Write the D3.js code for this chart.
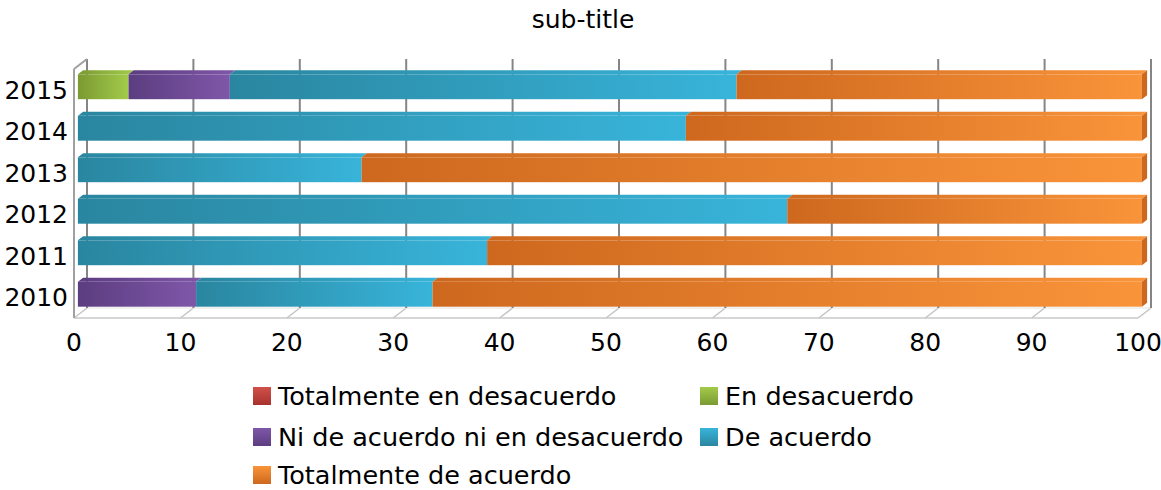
<!DOCTYPE html>
<html>
<head>
<meta charset="utf-8">
<script src="https://cdn.jsdelivr.net/npm/d3@7"></script>
<style>
  body { margin: 0; background: #fff; }
  text { font-family: "DejaVu Sans", sans-serif; }
</style>
</head>
<body>
<div id="chart"></div>
<script>
// data (percent per year, bars go top to bottom)
var years = ["2015", "2014", "2013", "2012", "2011", "2010"];
var seriesNames = ["Totalmente en desacuerdo", "En desacuerdo", "Ni de acuerdo ni en desacuerdo", "De acuerdo", "Totalmente de acuerdo"];
var totDesacuerdo = [0, 0, 0, 0, 0, 0];
var enDesacuerdo  = [4.76, 0, 0, 0, 0, 0];
var niNi          = [9.52, 0, 0, 0, 0, 11.11];
var deAcuerdo     = [47.62, 57.14, 26.67, 66.67, 38.46, 22.22];
var totAcuerdo    = [38.10, 42.86, 73.33, 33.33, 61.54, 66.67];
var xTicks = [0, 10, 20, 30, 40, 50, 60, 70, 80, 90, 100];

var seriesValues = [totDesacuerdo, enDesacuerdo, niNi, deAcuerdo, totAcuerdo];
var colours = [
    ["#a8322e", "#d2504a"],
    ["#7b9a33", "#a2cb4a"],
    ["#5c3d80", "#7f57a9"],
    ["#2a86a0", "#38b4da"],
    ["#cd681e", "#fa943a"]
];

var width = 1161, height = 490;
var depth = { dx: 13, dy: -10 };   // full depth of the 3d box
var f0 = 0.3, f1 = 0.7;            // bar front / back depth

var svg = d3.select("#chart").append("svg")
    .attr("width", width)
    .attr("height", height);

var x = d3.scaleLinear().domain([0, 100]).range([74, 1138]);
var y = d3.scaleBand().domain(years).range([69, 318]).paddingInner(0.4).paddingOuter(0.2);

var defs = svg.append("defs");
colours.forEach(function (c, i) {
    var g = defs.append("linearGradient").attr("id", "grad" + i)
        .attr("x1", "0%").attr("x2", "100%").attr("y1", "0%").attr("y2", "0%");
    g.append("stop").attr("offset", "0%").attr("stop-color", c[0]);
    g.append("stop").attr("offset", "100%").attr("stop-color", c[1]);
    var gl = defs.append("linearGradient").attr("id", "leg" + i)
        .attr("x1", "0%").attr("x2", "0%").attr("y1", "0%").attr("y2", "100%");
    gl.append("stop").attr("offset", "0%").attr("stop-color", c[1]);
    gl.append("stop").attr("offset", "100%").attr("stop-color", c[0]);
});

// title
svg.append("text")
    .attr("x", 583).attr("y", 28)
    .attr("text-anchor", "middle")
    .style("font-size", "25px")
    .text("sub-title");

var frame = svg.append("g");
var top0 = y.range()[0], bot0 = y.range()[1];

// floor lines
xTicks.forEach(function (t) {
    frame.append("line")
        .attr("x1", x(t)).attr("y1", bot0)
        .attr("x2", x(t) + depth.dx).attr("y2", bot0 + depth.dy)
        .attr("stroke", "#c4c4c4").attr("stroke-width", 1.5);
});
frame.append("line")
    .attr("x1", x(0)).attr("y1", bot0).attr("x2", x(100)).attr("y2", bot0)
    .attr("stroke", "#c8c8c8").attr("stroke-width", 1.5);
frame.append("line")
    .attr("x1", x(0) + depth.dx).attr("y1", bot0 + depth.dy)
    .attr("x2", x(100) + depth.dx).attr("y2", bot0 + depth.dy)
    .attr("stroke", "#e2e2e2").attr("stroke-width", 1);

// back wall grid lines
xTicks.forEach(function (t) {
    frame.append("line")
        .attr("x1", x(t) + depth.dx).attr("y1", top0 + depth.dy)
        .attr("x2", x(t) + depth.dx).attr("y2", bot0 + depth.dy)
        .attr("stroke", "#858585").attr("stroke-width", 2);
});

// left wall
frame.append("line")
    .attr("x1", x(0)).attr("y1", top0).attr("x2", x(0)).attr("y2", bot0)
    .attr("stroke", "#a0a0a0").attr("stroke-width", 2);
frame.append("line")
    .attr("x1", x(0)).attr("y1", top0)
    .attr("x2", x(0) + depth.dx).attr("y2", top0 + depth.dy)
    .attr("stroke", "#a0a0a0").attr("stroke-width", 2);

// stacked data
var rows = years.map(function (yr, j) {
    var acc = 0;
    var segs = [];
    seriesValues.forEach(function (vals, i) {
        var v = vals[j];
        if (v > 0) segs.push({ year: yr, s: i, x0: acc, x1: acc + v });
        acc += v;
    });
    return segs;
});

var ox0 = depth.dx * f0, oy0 = depth.dy * f0;
var ox1 = depth.dx * f1, oy1 = depth.dy * f1;

var bars = svg.selectAll("g.bar")
    .data(rows)
    .enter()
    .append("g")
    .attr("class", "bar");

bars.each(function (segs) {
    var g = d3.select(this);
    segs.forEach(function (d, k) {
        var xs = x(d.x0), xe = x(d.x1);
        var yt = y(d.year), yb = yt + y.bandwidth();
        g.append("polygon")
            .attr("points", [[xs + ox0, yt + oy0], [xe + ox0, yt + oy0], [xe + ox1, yt + oy1], [xs + ox1, yt + oy1]].join(" "))
            .attr("fill", "url(#grad" + d.s + ")");
        g.append("rect")
            .attr("x", xs + ox0).attr("y", yt + oy0)
            .attr("width", xe - xs).attr("height", y.bandwidth())
            .attr("fill", "url(#grad" + d.s + ")");
        if (k == segs.length - 1) {
            g.append("polygon")
                .attr("points", [[xe + ox0, yt + oy0], [xe + ox1, yt + oy1], [xe + ox1, yb + oy1], [xe + ox0, yb + oy0]].join(" "))
                .attr("fill", colours[d.s][0]);
        }
    });
});

// right edge of back wall drawn over bar ends
frame.append("line")
    .attr("x1", x(100) + depth.dx).attr("y1", top0 + depth.dy)
    .attr("x2", x(100) + depth.dx).attr("y2", bot0 + depth.dy)
    .attr("stroke", "#858585").attr("stroke-width", 2);

// axis labels
svg.selectAll("text.ylab")
    .data(years)
    .enter()
    .append("text")
    .attr("class", "ylab")
    .attr("x", 68)
    .attr("y", function (d) { return y(d) + y.bandwidth() / 2 + 9; })
    .attr("text-anchor", "end")
    .style("font-size", "25px")
    .text(function (d) { return d; });

svg.selectAll("text.xlab")
    .data(xTicks)
    .enter()
    .append("text")
    .attr("class", "xlab")
    .attr("x", function (d) { return x(d); })
    .attr("y", 351)
    .attr("text-anchor", "middle")
    .style("font-size", "25px")
    .text(function (d) { return d; });

// legend
var legendPos = [[253, 396], [700, 396], [253, 437], [700, 437], [253, 475]];
var legend = svg.selectAll("g.legend")
    .data(seriesNames)
    .enter()
    .append("g")
    .attr("class", "legend")
    .attr("transform", function (d, i) { return "translate(" + legendPos[i][0] + "," + legendPos[i][1] + ")"; });

legend.append("rect")
    .attr("x", 0).attr("y", -9)
    .attr("width", 18).attr("height", 18)
    .attr("fill", function (d, i) { return "url(#leg" + i + ")"; });

legend.append("text")
    .attr("x", 25).attr("y", 9)
    .style("font-size", "25.5px")
    .text(function (d) { return d; });
</script>
</body>
</html>
